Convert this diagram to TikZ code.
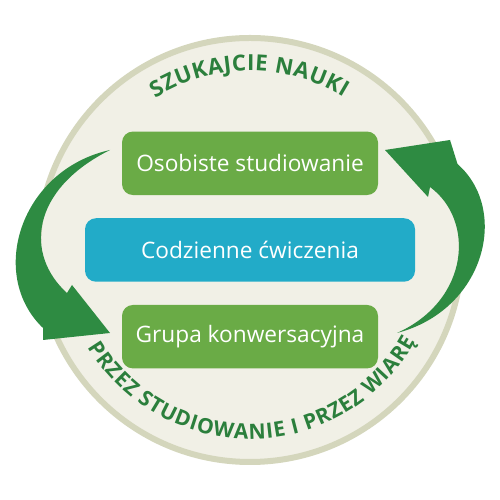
\documentclass[tikz,border=0pt]{standalone}
\usepackage{fontspec}
\setmainfont{Open Sans}
\usetikzlibrary{positioning,decorations.text}

\definecolor{boxgreen}{HTML}{6AAB46}
\definecolor{boxblue}{HTML}{22ABC8}
\definecolor{arrowgreen}{HTML}{2E8B42}
\definecolor{textgreen}{HTML}{2B7F3C}
\definecolor{discfill}{HTML}{F1F0E6}
\definecolor{discring}{HTML}{D4D6BC}

\tikzset{
  stage/.style={rounded corners=0.22cm, minimum height=1.27cm, text=white,
    font=\fontsize{12.9}{15}\selectfont},
  bigarrow/.style={fill=arrowgreen, draw=none},
}

\begin{document}
\begin{tikzpicture}
    \useasboundingbox (0,0) rectangle (10,10);

    % Disc
    \draw[fill=discfill, draw=discring, line width=0.12cm] (5,5) circle (4.24);

    % Left arrow (top to bottom)
    \path[bigarrow] (2.2,7.0) .. controls (0.4,6.6) and (-0.25,4.5) .. (0.86,3.44)
        -- (0.86,3.2) -- (2.2,3.34) -- (1.44,4.3) -- (1.34,4.14)
        .. controls (0.5,4.9) and (0.6,6.2) .. (2.2,7.0) -- cycle;

    % Right arrow (bottom to top)
    \path[bigarrow] (7.94,3.34) .. controls (9.7,3.8) and (10.2,5.8) .. (9.15,6.72)
        -- (9.0,7.2) -- (7.7,7.0) -- (8.56,6.06) -- (8.6,6.26)
        .. controls (9.5,5.6) and (9.4,4.0) .. (7.94,3.34) -- cycle;

    % Stages
    \node[stage, fill=boxblue, minimum width=6.6cm] (codzienne) at (5,5) {Codzienne ćwiczenia};
    \node[stage, fill=boxgreen, minimum width=5.12cm, above=0.45cm of codzienne] (osobiste) {Osobiste studiowanie};
    \node[stage, fill=boxgreen, minimum width=5.12cm, below=0.45cm of codzienne] (grupa) {Grupa konwersacyjna};

    % Top title
    \path[decorate, decoration={text along path, text align=fit to path,
        text color=textgreen,
        text={|\fontsize{12.6}{14}\selectfont\bfseries|SZUKAJCIE NAUKI}}]
        (5,5) ++(122:3.58) arc (122:58.5:3.58);

    % Bottom title
    \path[decorate, decoration={text along path, text align=fit to path,
        text color=textgreen,
        text={|\fontsize{12}{14}\selectfont\bfseries|PRZEZ STUDIOWANIE I PRZEZ WIARĘ}}]
        (5,5) ++(211:3.78) arc (211:331:3.78);
\end{tikzpicture}
\end{document}
